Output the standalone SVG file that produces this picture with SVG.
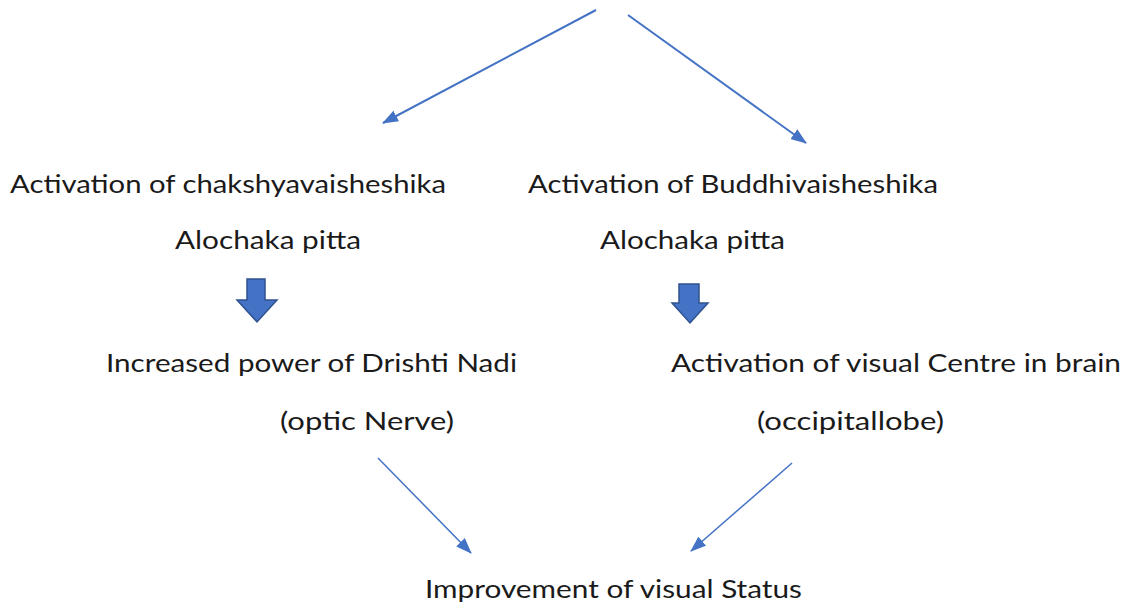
<svg xmlns="http://www.w3.org/2000/svg" width="1129" height="606" viewBox="0 0 1129 606">
<defs>
<style>
text{font-family:Lato,"Open Sans","Liberation Sans",sans-serif;font-size:25px;fill:#1a1a1a}
.c{stroke:#4472C4;stroke-width:2;fill:none;marker-end:url(#ah)}
.b{fill:#4472C4;stroke:#2F528F;stroke-width:1.5}
</style>
<marker id="ah" markerWidth="10" markerHeight="8" refX="9" refY="4" orient="auto" markerUnits="userSpaceOnUse" viewBox="0 0 10 8">
<path d="M0,0 L10,4 L0,8 Z" fill="#4472C4"/>
</marker>
<marker id="ah2" markerWidth="16" markerHeight="12" refX="15" refY="6" orient="auto" markerUnits="userSpaceOnUse" viewBox="0 0 16 12">
<path d="M0,0 L16,6 L0,12 Z" fill="#4472C4"/>
</marker>
</defs>
<rect width="1129" height="606" fill="#fff"/>
<g id="connectors">
<line x1="596" y1="10" x2="383" y2="123" stroke="#4472C4" stroke-width="2" marker-end="url(#ah2)"/>
<line x1="628" y1="15" x2="806" y2="143" stroke="#4472C4" stroke-width="2" marker-end="url(#ah2)"/>
<line x1="378" y1="458" x2="471" y2="553" stroke="#4472C4" stroke-width="1.5" marker-end="url(#ah2)"/>
<line x1="792" y1="463" x2="691" y2="551" stroke="#4472C4" stroke-width="1.5" marker-end="url(#ah2)"/>
<path id="blockL" class="b" d="M247,279 H265 V300 H277 L257,322 L237,300 H247 Z"/>
<path id="blockR" class="b" d="M679,284 H699 V303 H708 L690,323 L672,303 H679 Z"/>
</g>
<g id="node-chakshya">
<text x="10" y="193" textLength="436" lengthAdjust="spacingAndGlyphs">Activation of chakshyavaisheshika</text>
<text x="175" y="249" textLength="186" lengthAdjust="spacingAndGlyphs">Alochaka pitta</text>
</g>
<g id="node-buddhi">
<text x="528" y="193" textLength="410" lengthAdjust="spacingAndGlyphs">Activation of Buddhivaisheshika</text>
<text x="600" y="249" textLength="185" lengthAdjust="spacingAndGlyphs">Alochaka pitta</text>
</g>
<g id="node-drishti">
<text x="106" y="372" textLength="411" lengthAdjust="spacingAndGlyphs">Increased power of Drishti Nadi</text>
<text x="280" y="430" textLength="174" lengthAdjust="spacingAndGlyphs">(optic Nerve)</text>
</g>
<g id="node-visual-centre">
<text x="671" y="372" textLength="450" lengthAdjust="spacingAndGlyphs">Activation of visual Centre in brain</text>
<text x="757" y="430" textLength="187" lengthAdjust="spacingAndGlyphs">(occipitallobe)</text>
</g>
<g id="node-improvement">
<text x="425" y="598" textLength="377" lengthAdjust="spacingAndGlyphs">Improvement of visual Status</text>
</g>
</svg>
